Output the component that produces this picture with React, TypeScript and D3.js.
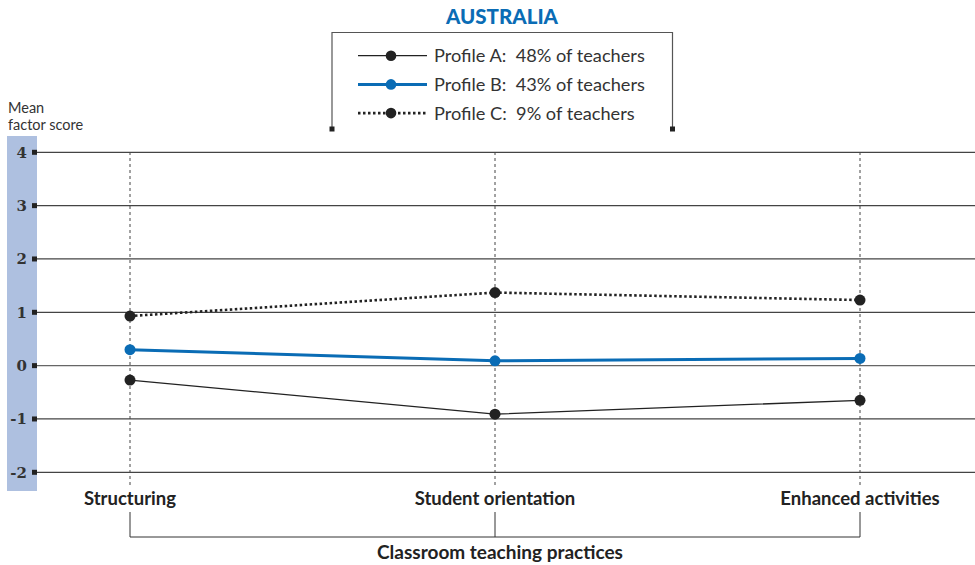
import React from "react";
import * as d3 from "d3";

const categories = ["Structuring", "Student orientation", "Enhanced activities"];
const profileA = [-0.27, -0.91, -0.65];
const profileB = [0.3, 0.09, 0.135];
const profileC = [0.93, 1.37, 1.23];
const yTicks = [4, 3, 2, 1, 0, -1, -2];
const legendLabels = ["Profile A:  48% of teachers", "Profile B:  43% of teachers", "Profile C:  9% of teachers"];

const BLUE = "#0a6cb5";
const DARK = "#222222";

export default function App() {
  const W = 975, H = 565;
  const x = d3.scalePoint<string>().domain(categories).range([130, 860]);
  const y = d3.scaleLinear().domain([-2, 4]).range([472.3, 152.3]);
  const line = d3.line<number>().x((_, i) => x(categories[i])!).y((d) => y(d));

  const series = [
    { vals: profileA, color: DARK, width: 1.3, dash: undefined as string | undefined },
    { vals: profileB, color: BLUE, width: 3, dash: undefined },
    { vals: profileC, color: DARK, width: 2.6, dash: "2.5,2.5" },
  ];
  const font = "Lato, 'Open Sans', sans-serif";

  return (
    <svg width={W} height={H} style={{ position: "absolute", left: 0, top: 0 }} fontFamily={font}>
      <rect x={0} y={0} width={W} height={H} fill="#fff" />
      {/* title */}
      <text x={502} y={24} textAnchor="middle" fontSize={20.5} fontWeight={900} fill={BLUE}>AUSTRALIA</text>
      {/* legend frame */}
      <path d="M332,129 V32.5 H672.5 V129" fill="none" stroke="#555" strokeWidth={1.2} />
      <rect x={329.5} y={126.5} width={5} height={5} fill={DARK} />
      <rect x={670} y={126.5} width={5} height={5} fill={DARK} />
      {series.map((s, i) => {
        const ly = 55.7 + i * 28.7;
        return (
          <g key={"lg" + i}>
            <line x1={358} x2={427} y1={ly} y2={ly} stroke={s.color} strokeWidth={s.width} strokeDasharray={s.dash} />
            <circle cx={391} cy={ly} r={5.3} fill={s.color} />
            <text x={434} y={ly + 6.5} fontSize={18.2} fill="#333" style={{ whiteSpace: "pre" }}>{legendLabels[i]}</text>
          </g>
        );
      })}
      {/* y axis label */}
      <text x={8} y={113} fontSize={14.5} fill="#333">Mean</text>
      <text x={8} y={130} fontSize={14.5} fill="#333">factor score</text>
      {/* blue band */}
      <rect x={7} y={136} width={30} height={355} fill="#aec0e0" />
      {/* grid lines */}
      {yTicks.map((t) => (
        <g key={"t" + t}>
          <line x1={36} x2={975} y1={y(t)} y2={y(t)} stroke={t === 0 ? "#666" : "#444"} strokeWidth={1.2} />
          <rect x={32} y={y(t) - 2.5} width={5} height={5} fill={DARK} />
          <text x={27} y={y(t) + 5.5} textAnchor="end" fontSize={15} fontWeight={700} fill="#333" fontFamily="'DejaVu Serif', serif">{t}</text>
        </g>
      ))}
      {/* vertical dashed category lines */}
      {categories.map((c) => (
        <line key={"v" + c} x1={x(c)} x2={x(c)} y1={152} y2={486} stroke="#444" strokeWidth={1} strokeDasharray="3,3" />
      ))}
      {/* series */}
      {series.map((s, i) => (
        <g key={"s" + i}>
          <path d={line(s.vals)!} fill="none" stroke={s.color} strokeWidth={s.width} strokeDasharray={s.dash} />
          {s.vals.map((v, j) => (
            <circle key={j} cx={x(categories[j])} cy={y(v)} r={5.5} fill={s.color} />
          ))}
        </g>
      ))}
      {/* category labels */}
      {categories.map((c) => (
        <text key={"c" + c} x={x(c)} y={505} textAnchor="middle" fontSize={18.5} fontWeight={700} fill="#222">{c}</text>
      ))}
      {/* bracket */}
      <path d={`M${x(categories[0])},512 V537 H${x(categories[2])} V512 M${x(categories[1])},512 V537`} fill="none" stroke="#333" strokeWidth={1} />
      <text x={500} y={559} textAnchor="middle" fontSize={19} fontWeight={700} fill="#222">Classroom teaching practices</text>
    </svg>
  );
}
